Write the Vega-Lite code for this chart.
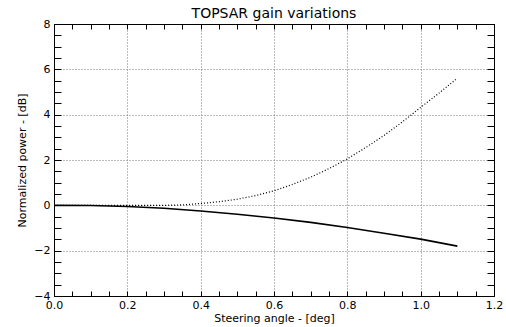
{
  "$schema": "https://vega.github.io/schema/vega-lite/v6.json",
  "width": 440,
  "height": 272,
  "autosize": {"type": "none"},
  "padding": {"left": 54, "top": 24, "right": 12, "bottom": 31},
  "background": "white",
  "title": {"text": "TOPSAR gain variations", "fontSize": 14, "fontWeight": "normal", "font": "DejaVu Sans", "color": "black", "offset": -3},
  "config": {
    "view": {"stroke": null},
    "axis": {"labelFont": "DejaVu Sans", "titleFont": "DejaVu Sans", "labelFontSize": 11, "titleFontSize": 11, "titleFontWeight": "normal", "labelColor": "black", "titleColor": "black", "domainColor": "black", "tickColor": "black", "labelOverlap": false, "labelFlush": false, "labelBound": false}
  },
  "data": {"values": [
    {"s": "solid", "x": 0.0, "y": 0.0},
    {"s": "solid", "x": 0.1, "y": -0.01},
    {"s": "solid", "x": 0.2, "y": -0.05},
    {"s": "solid", "x": 0.3, "y": -0.13},
    {"s": "solid", "x": 0.4, "y": -0.25},
    {"s": "solid", "x": 0.5, "y": -0.39},
    {"s": "solid", "x": 0.6, "y": -0.56},
    {"s": "solid", "x": 0.7, "y": -0.75},
    {"s": "solid", "x": 0.8, "y": -0.98},
    {"s": "solid", "x": 0.9, "y": -1.23},
    {"s": "solid", "x": 1.0, "y": -1.49},
    {"s": "solid", "x": 1.1, "y": -1.8},
    {"s": "dotted", "x": 0.0, "y": 0.0},
    {"s": "dotted", "x": 0.1, "y": 0.0},
    {"s": "dotted", "x": 0.2, "y": 0.0},
    {"s": "dotted", "x": 0.3, "y": 0.0},
    {"s": "dotted", "x": 0.35, "y": 0.02},
    {"s": "dotted", "x": 0.4, "y": 0.08},
    {"s": "dotted", "x": 0.45, "y": 0.16},
    {"s": "dotted", "x": 0.5, "y": 0.27},
    {"s": "dotted", "x": 0.55, "y": 0.43},
    {"s": "dotted", "x": 0.6, "y": 0.64},
    {"s": "dotted", "x": 0.65, "y": 0.92},
    {"s": "dotted", "x": 0.7, "y": 1.24},
    {"s": "dotted", "x": 0.75, "y": 1.62},
    {"s": "dotted", "x": 0.8, "y": 2.05},
    {"s": "dotted", "x": 0.85, "y": 2.55},
    {"s": "dotted", "x": 0.9, "y": 3.08},
    {"s": "dotted", "x": 0.95, "y": 3.68},
    {"s": "dotted", "x": 1.0, "y": 4.32},
    {"s": "dotted", "x": 1.05, "y": 4.95},
    {"s": "dotted", "x": 1.1, "y": 5.61}
  ]},
  "layer": [
    {
      "transform": [{"filter": "datum.s === 'solid'"}],
      "mark": {"type": "line", "color": "black", "strokeWidth": 1.6},
      "encoding": {
        "x": {"field": "x", "type": "quantitative", "scale": {"domain": [0, 1.2], "nice": false, "zero": false},
          "axis": {"orient": "bottom", "title": "Steering angle - [deg]", "titlePadding": 2,
            "values": [0,0.05,0.1,0.15,0.2,0.25,0.3,0.35,0.4,0.45,0.5,0.55,0.6,0.65,0.7,0.75,0.8,0.85,0.9,0.95,1.0,1.05,1.1,1.15,1.2],
            "labelExpr": "abs(datum.value*5-round(datum.value*5))<0.001 ? format(datum.value,'.1f') : ''",
            "tickSize": -5, "labelPadding": 8,
            "grid": true, "gridDash": [1, 2], "gridColor": "#777",
            "gridOpacity": {"condition": {"test": "abs(datum.value*5-round(datum.value*5))<0.001", "value": 1}, "value": 0}}},
        "y": {"field": "y", "type": "quantitative", "scale": {"domain": [-4, 8], "nice": false, "zero": false},
          "axis": {"orient": "left", "title": "Normalized power - [dB]", "titlePadding": 6,
            "values": [-4,-3.5,-3,-2.5,-2,-1.5,-1,-0.5,0,0.5,1,1.5,2,2.5,3,3.5,4,4.5,5,5.5,6,6.5,7,7.5,8],
            "labelExpr": "abs(datum.value/2-round(datum.value/2))<0.001 ? format(datum.value,'d') : ''",
            "tickSize": -7, "labelPadding": 11,
            "grid": true, "gridDash": [1, 2], "gridColor": "#777",
            "gridOpacity": {"condition": {"test": "abs(datum.value/2-round(datum.value/2))<0.001", "value": 1}, "value": 0}}}
      }
    },
    {
      "transform": [{"filter": "datum.s === 'dotted'"}],
      "mark": {"type": "line", "color": "black", "strokeWidth": 1.2, "strokeDash": [1, 2]},
      "encoding": {
        "x": {"field": "x", "type": "quantitative",
          "axis": {"orient": "top", "title": null, "labels": false, "grid": false, "tickSize": -5,
            "values": [0,0.05,0.1,0.15,0.2,0.25,0.3,0.35,0.4,0.45,0.5,0.55,0.6,0.65,0.7,0.75,0.8,0.85,0.9,0.95,1.0,1.05,1.1,1.15,1.2]}},
        "y": {"field": "y", "type": "quantitative",
          "axis": {"orient": "right", "title": null, "labels": false, "grid": false, "tickSize": -7,
            "values": [-4,-3.5,-3,-2.5,-2,-1.5,-1,-0.5,0,0.5,1,1.5,2,2.5,3,3.5,4,4.5,5,5.5,6,6.5,7,7.5,8]}}
      }
    }
  ],
  "resolve": {"axis": {"x": "independent", "y": "independent"}}
}
